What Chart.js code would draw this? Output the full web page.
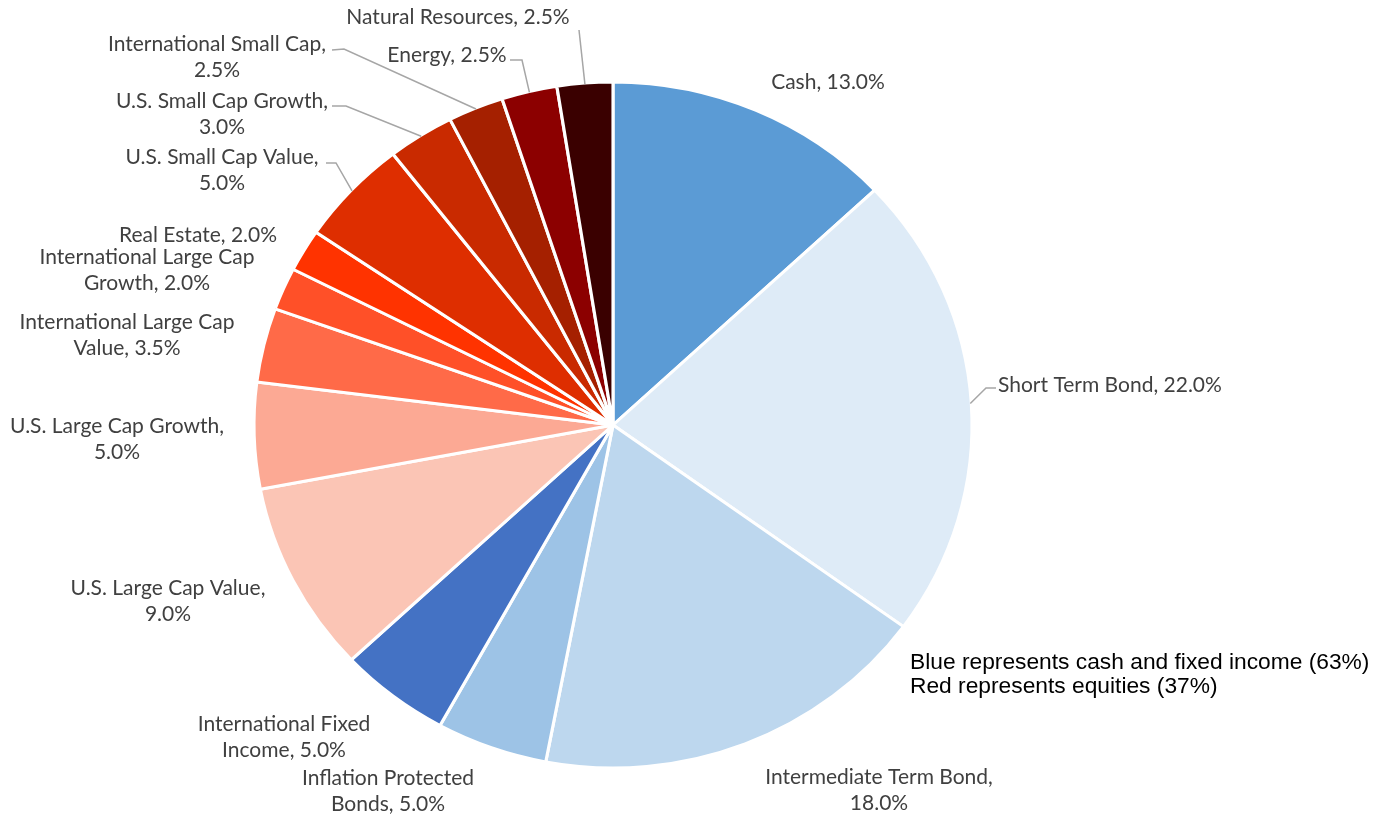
<!DOCTYPE html>
<html>
<head>
<meta charset="utf-8">
<script src="https://cdn.jsdelivr.net/npm/chart.js@4"></script>
<style>
  html, body { margin: 0; padding: 0; background: #fff; }
  #wrap { position: relative; width: 1386px; height: 818px; }
  #note {
    position: absolute; left: 910px; top: 650px;
    font-family: "Liberation Sans", Arial, sans-serif; font-size: 22px;
    line-height: 24px; color: #000; white-space: nowrap;
    transform: scaleX(1.035); transform-origin: left top;
  }
</style>
</head>
<body>
<div id="wrap">
  <canvas id="pieChart" width="1386" height="818"></canvas>
  <div id="note">Blue represents cash and fixed income (63%)<br>Red represents equities (37%)</div>
</div>
<script>
// data
const categories = ['Cash', 'Short Term Bond', 'Intermediate Term Bond', 'Inflation Protected Bonds',
    'International Fixed Income', 'U.S. Large Cap Value', 'U.S. Large Cap Growth',
    'International Large Cap Value', 'International Large Cap Growth', 'Real Estate',
    'U.S. Small Cap Value', 'U.S. Small Cap Growth', 'International Small Cap', 'Energy',
    'Natural Resources'];
const weights = [13.0, 22.0, 18.0, 5.0, 5.0, 9.0, 5.0, 3.5, 2.0, 2.0, 5.0, 3.0, 2.5, 2.5, 2.5];
const sliceColors = ['#5b9bd5', '#deebf7', '#bdd7ee', '#9dc3e6', '#4472c4', '#fbc5b5', '#fca994',
    '#ff6a48', '#ff5028', '#ff3300', '#de2e00', '#c92a00', '#a52000', '#8c0000', '#3a0000'];

// label layout: text lines, text centre, optional leader [labelEnd, elbow]
const labelLayout = [
    { lines: ['Cash, 13.0%'], x: 828, y: 82 },
    { lines: ['Short Term Bond, 22.0%'], x: 998, y: 385, align: 'left', leader: [[996, 388], [986, 388]] },
    { lines: ['Intermediate Term Bond,', '18.0%'], x: 879, y: 777 },
    { lines: ['Inflation Protected', 'Bonds, 5.0%'], x: 388, y: 778 },
    { lines: ['International Fixed', 'Income, 5.0%'], x: 284, y: 724 },
    { lines: ['U.S. Large Cap Value,', '9.0%'], x: 168, y: 588 },
    { lines: ['U.S. Large Cap Growth,', '5.0%'], x: 117, y: 426 },
    { lines: ['International Large Cap', 'Value, 3.5%'], x: 127, y: 322 },
    { lines: ['International Large Cap', 'Growth, 2.0%'], x: 147, y: 257 },
    { lines: ['Real Estate, 2.0%'], x: 198, y: 235 },
    { lines: ['U.S. Small Cap Value,', '5.0%'], x: 222, y: 157, leader: [[326, 163], [336, 163]] },
    { lines: ['U.S. Small Cap Growth,', '3.0%'], x: 222, y: 101, leader: [[332, 106], [346, 106]] },
    { lines: ['International Small Cap,', '2.5%'], x: 217, y: 44, leader: [[332, 50], [344, 49]] },
    { lines: ['Energy, 2.5%'], x: 447, y: 55, leader: [[510, 60], [522, 60]] },
    { lines: ['Natural Resources, 2.5%'], x: 458, y: 17, leader: [[579, 30], [579, 30]] }
];

const stretchX = 358 / 342;   // the reference pie is slightly wider than tall

const ellipsePlugin = {
    id: 'ellipse',
    beforeDatasetsDraw(chart) {
        const arc = chart.getDatasetMeta(0).data[0];
        const ctx = chart.ctx;
        ctx.save();
        ctx.translate(arc.x, arc.y);
        ctx.scale(stretchX, 1);
        ctx.translate(-arc.x, -arc.y);
    },
    afterDatasetsDraw(chart) {
        chart.ctx.restore();
    }
};

const labelPlugin = {
    id: 'sliceLabels',
    afterDraw(chart) {
        const ctx = chart.ctx;
        const arcs = chart.getDatasetMeta(0).data;
        ctx.save();
        ctx.font = '21px Lato, "Open Sans", sans-serif';
        ctx.fillStyle = '#404040';
        ctx.textBaseline = 'middle';
        labelLayout.forEach((lab, i) => {
            ctx.textAlign = lab.align || 'center';
            lab.lines.forEach((t, k) => ctx.fillText(t, lab.x, lab.y + k * 26));
            if (lab.leader) {
                const a = arcs[i];
                const mid = (a.startAngle + a.endAngle) / 2;
                const r = a.outerRadius - 1;
                const px = a.x + Math.cos(mid) * r * stretchX;
                const py = a.y + Math.sin(mid) * r;
                ctx.strokeStyle = '#a6a6a6';
                ctx.lineWidth = 1.5;
                ctx.beginPath();
                ctx.moveTo(lab.leader[0][0], lab.leader[0][1]);
                ctx.lineTo(lab.leader[1][0], lab.leader[1][1]);
                ctx.lineTo(px, py);
                ctx.stroke();
            }
        });
        ctx.restore();
    }
};

const pieCtx = document.getElementById('pieChart').getContext('2d');
new Chart(pieCtx, {
    type: 'pie',
    data: {
        labels: categories,
        datasets: [{
            data: weights,
            backgroundColor: sliceColors,
            borderColor: '#ffffff',
            borderWidth: 3
        }]
    },
    options: {
        responsive: false,
        animation: false,
        events: [],
        radius: 343,
        layout: {
            padding: { left: 0, right: 160, top: 32, bottom: 0 }
        },
        plugins: {
            legend: { display: false },
            tooltip: { enabled: false }
        }
    },
    plugins: [ellipsePlugin, labelPlugin]
});
</script>
</body>
</html>
